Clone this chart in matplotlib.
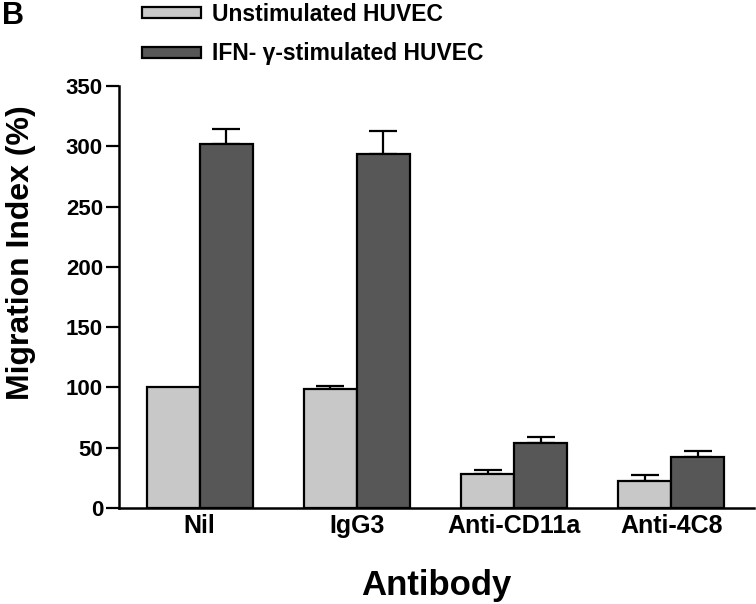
import matplotlib
matplotlib.use("Agg")
import matplotlib.pyplot as plt
import numpy as np

plt.rcParams['font.family'] = ['Liberation Sans', 'DejaVu Sans']
plt.rcParams['font.weight'] = 'bold'

categories = ["Nil", "IgG3", "Anti-CD11a", "Anti-4C8"]
unstim = [100, 99, 28, 22]
unstim_err = [0, 2, 3.5, 5]
ifn = [302, 294, 54, 42]
ifn_err = [12, 19, 5, 5]
series_names = ["Unstimulated HUVEC", "IFN- \u03b3-stimulated HUVEC"]
yticks = [0, 50, 100, 150, 200, 250, 300, 350]

W, H = 756, 604
fig = plt.figure(figsize=(W/100, H/100), dpi=100)
ax = fig.add_axes([119/W, 1-508/H, (754-119)/W, (508-86)/H])

x = np.arange(len(categories))
w = 0.337
b1 = ax.bar(x - w/2, unstim, w, color='#c8c8c8', edgecolor='black', linewidth=1.6,
            label=series_names[0], zorder=2)
b2 = ax.bar(x + w/2, ifn, w, color='#575757', edgecolor='black', linewidth=1.6,
            label=series_names[1], zorder=2)

for xs, vals, errs in [(x - w/2, unstim, unstim_err), (x + w/2, ifn, ifn_err)]:
    xs = np.asarray(xs); vals = np.asarray(vals, float); errs = np.asarray(errs, float)
    m = errs > 0
    ax.errorbar(xs[m], vals[m], yerr=[np.zeros(m.sum()), errs[m]], fmt='none',
                ecolor='black', elinewidth=1.6, capthick=1.6, capsize=10, zorder=1)

ax.set_xlim(-0.512, 3.525)
ax.set_ylim(0, 350)
ax.set_yticks(yticks)
ax.set_yticklabels([str(t) for t in yticks], fontsize=16, fontweight='bold')
ax.set_xticks(x)
ax.set_xticklabels(categories, fontsize=18, fontweight='bold')
ax.tick_params(axis='x', length=0, pad=4)
ax.tick_params(axis='y', length=9.5, width=1.6, direction='out', pad=2)
for s in ['top', 'right']:
    ax.spines[s].set_visible(False)
for s in ['left', 'bottom']:
    ax.spines[s].set_linewidth(1.8)
    ax.spines[s].set_zorder(3)

fig.text(21/W, 1-253/H, "Migration Index (%)", fontsize=23, fontweight='bold',
         rotation=90, ha='center', va='center')
fig.text(436/W, 1-595/H, "Antibody", fontsize=25, fontweight='bold',
         ha='center', va='baseline')

fig.legend(handles=[b1, b2], labels=series_names, loc='upper left',
           bbox_to_anchor=(128/W, 1.018), frameon=False, borderpad=0.1,
           prop=dict(size=16.5, weight='bold'), handlelength=2.6, handleheight=0.35,
           handletextpad=0.45, labelspacing=0.72)

fig.text(0.002, 0.998, "B", fontsize=22, fontweight='bold', va='top', ha='left')

fig.savefig("out.png", dpi=100)
